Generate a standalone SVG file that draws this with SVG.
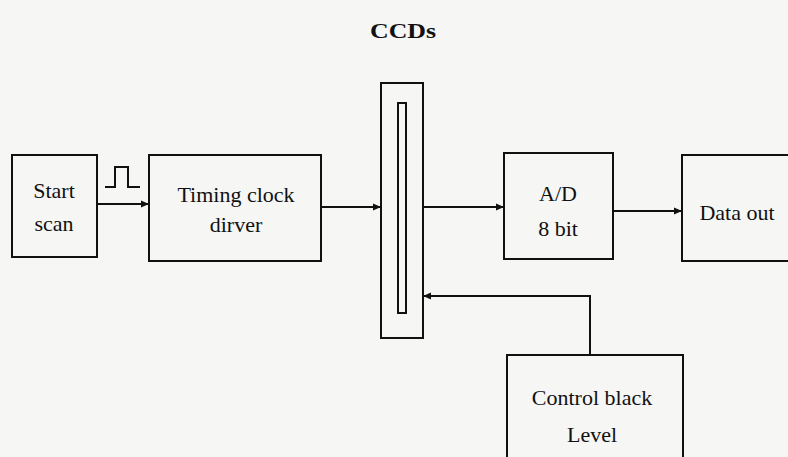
<svg xmlns="http://www.w3.org/2000/svg" width="788" height="457" viewBox="0 0 788 457">
<defs>
<style>
.box{fill:none;stroke:#111;stroke-width:2}
.ln{fill:none;stroke:#111;stroke-width:2}
.t{font-family:"Liberation Serif","Times New Roman",serif;font-size:22px;fill:#111;text-anchor:middle}
.h{font-family:"Liberation Serif","Times New Roman",serif;font-size:20px;font-weight:bold;fill:#111;text-anchor:middle}
</style>
<marker id="ah" markerUnits="userSpaceOnUse" markerWidth="9" markerHeight="8" refX="8" refY="4" orient="auto">
<path d="M0,0.5 L8,4 L0,7.5 z" fill="#111"/>
</marker>
</defs>
<rect width="788" height="457" fill="#f6f6f4"/>
<text class="h" x="403" y="38" textLength="66" lengthAdjust="spacingAndGlyphs">CCDs</text>
<g id="start">
<rect class="box" x="12" y="155" width="85" height="102"/>
<text class="t" x="54" y="198">Start</text>
<text class="t" x="54" y="231">scan</text>
</g>
<g id="timing">
<rect class="box" x="149" y="155" width="172" height="106"/>
<text class="t" x="236" y="202">Timing clock</text>
<text class="t" x="236" y="232">dirver</text>
</g>
<g id="ccd">
<rect class="box" x="381" y="83" width="42" height="255"/>
<rect class="box" x="398" y="103" width="8" height="210"/>
</g>
<g id="ad">
<rect class="box" x="504" y="153" width="109" height="106"/>
<text class="t" x="558" y="201">A/D</text>
<text class="t" x="558" y="236">8 bit</text>
</g>
<g id="dataout">
<rect class="box" x="682" y="155" width="120" height="106"/>
<text class="t" x="737" y="220">Data out</text>
</g>
<g id="control">
<rect class="box" x="507" y="355" width="176" height="120"/>
<text class="t" x="592" y="405">Control black</text>
<text class="t" x="592" y="442">Level</text>
</g>
<g id="connectors">
<polyline class="ln" points="105,187 115,187 115,167 128,167 128,187 140,187"/>
<line class="ln" x1="97" y1="204" x2="149" y2="204" marker-end="url(#ah)"/>
<line class="ln" x1="321" y1="207" x2="381" y2="207" marker-end="url(#ah)"/>
<line class="ln" x1="423" y1="207" x2="504" y2="207" marker-end="url(#ah)"/>
<line class="ln" x1="613" y1="211" x2="682" y2="211" marker-end="url(#ah)"/>
<polyline class="ln" points="590,355 590,296 423,296" marker-end="url(#ah)"/>
</g>
</svg>
